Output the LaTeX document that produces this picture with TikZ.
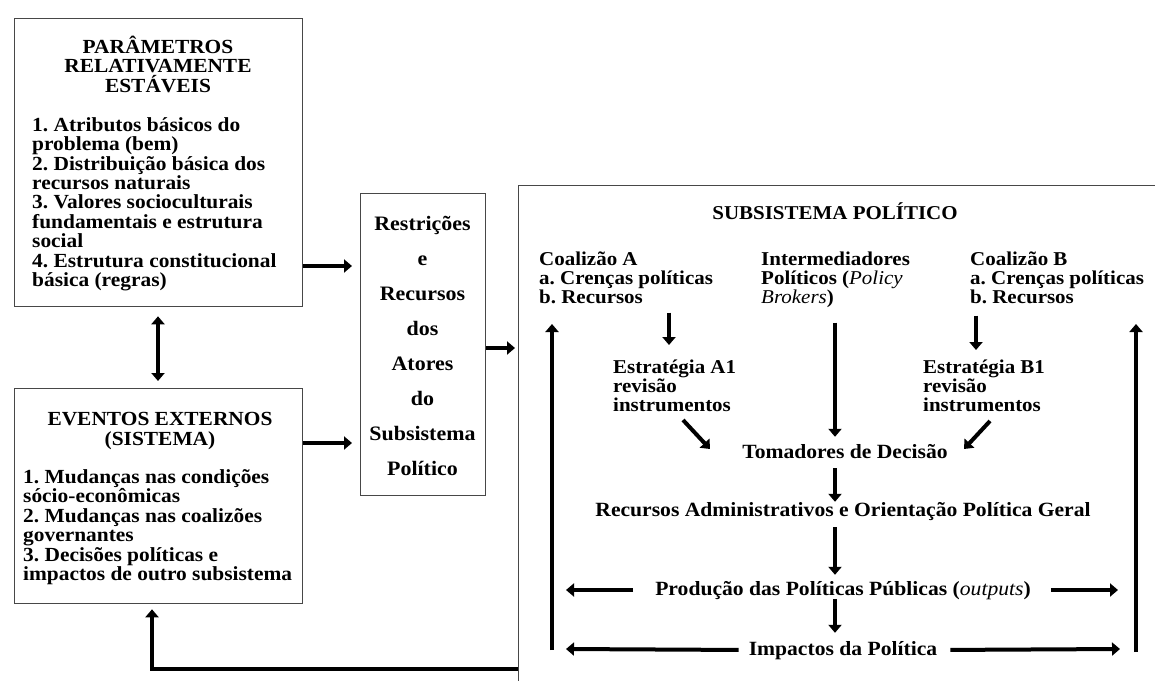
\documentclass[tikz,border=0pt]{standalone}
\usepackage{fontspec}
\setmainfont{Liberation Serif}[FakeStretch=1.07]
\usetikzlibrary{arrows.meta}
\frenchspacing
\newcommand\fl{\vrule height 19pt depth 0pt width 0pt\relax}
\newcommand\nolsl{\lineskiplimit=-100pt\relax}
\begin{document}
\begin{tikzpicture}[x=1pt,y=-1pt,
  box/.style={draw=black!72, line width=1.3pt, inner sep=0pt, fill=none},
  arr/.style={line width=4pt, -{Triangle[length=8pt,width=13pt]}},
  darr/.style={line width=4pt, {Triangle[length=8pt,width=13pt]}-{Triangle[length=8pt,width=13pt]}},
  tb/.style={inner sep=0pt, font=\bfseries\fontsize{20}{19.4}\selectfont\nolsl},
  tsub/.style={inner sep=0pt, font=\bfseries\fontsize{19.6}{19}\selectfont\nolsl},
  one/.style={inner sep=0pt, anchor=base, text height=14pt, text depth=4pt, font=\bfseries\fontsize{20.2}{20}\selectfont},
]
\useasboundingbox (0,0) rectangle (1155,680);
\fill[white] (0,0) rectangle (1155,680);

% ---------- boxes ----------
\node[box, anchor=north west, minimum width=288pt, minimum height=288pt] (b1) at (14,18) {};
\node[box, anchor=north west, minimum width=288pt, minimum height=215pt] (b2) at (14,388) {};
\node[box, anchor=north west, minimum width=125pt, minimum height=302pt] (b3) at (360,193) {};
\begin{scope}
\clip (0,0) rectangle (1155,680);
\node[box, anchor=north west, minimum width=700pt, minimum height=600pt] (b4) at (518,185) {};
\end{scope}

% ---------- box 1 ----------
\node[tb, anchor=north, align=center] (t1) at (158,34) {\fl PARÂMETROS\\RELATIVAMENTE\\ESTÁVEIS};
\node[tb, anchor=north west, align=left] (l1) at (32,112) {\fl 1. Atributos básicos do\\problema (bem)\\2. Distribuição básica dos\\recursos naturais\\3. Valores socioculturais\\fundamentais e estrutura\\social\\4. Estrutura constitucional\\básica (regras)};

% ---------- box 2 ----------
\node[tb, anchor=north, align=center, font=\bfseries\fontsize{20}{20}\selectfont\nolsl] (t2) at (160,406) {\fl EVENTOS EXTERNOS\\(SISTEMA)};
\node[tb, anchor=north west, align=left, font=\bfseries\fontsize{20}{19.5}\selectfont\nolsl] (l2) at (23,464) {\fl 1. Mudanças nas condições\\sócio-econômicas\\2. Mudanças nas coalizões\\governantes\\3. Decisões políticas e\\impactos de outro subsistema};

% ---------- box 3 ----------
\node[inner sep=0pt, anchor=north, align=center, font=\bfseries\fontsize{20.5}{35}\selectfont\nolsl] (t3) at (422.5,211) {\fl Restrições\\e\\Recursos\\dos\\Atores\\do\\Subsistema\\Político};

% ---------- subsystem ----------
\node[inner sep=0pt, anchor=base, font=\bfseries\fontsize{19.6}{20}\selectfont] (st) at (835,219) {SUBSISTEMA POLÍTICO};
\node[tsub, anchor=north west, align=left] (coalA) at (539,246) {\fl Coalizão A\\a. Crenças políticas\\b. Recursos};
\node[tsub, anchor=north west, align=left] (inter) at (761,246) {\fl Intermediadores\\Políticos ({\mdseries\itshape Policy}\\{\mdseries\itshape Brokers})};
\node[tsub, anchor=north west, align=left] (coalB) at (970,246) {\fl Coalizão B\\a. Crenças políticas\\b. Recursos};
\node[tsub, anchor=north west, align=left] (estA) at (613,354) {\fl Estratégia A1\\revisão\\instrumentos};
\node[tsub, anchor=north west, align=left] (estB) at (923,354) {\fl Estratégia B1\\revisão\\instrumentos};
\node[one] (tom) at (845,458) {Tomadores de Decisão};
\node[one] (rec) at (843,516) {Recursos Administrativos e Orientação Política Geral};
\node[one] (prod) at (843,595) {Produção das Políticas Públicas ({\mdseries\itshape outputs})};
\node[one] (imp) at (843,655) {Impactos da Política};

% ---------- coordinates ----------
\coordinate (colA) at (669,0);
\coordinate (colB) at (976,0);
\coordinate (colM) at (835,0);
\coordinate (c158) at (158,0);
\coordinate (y266) at (0,266);
\coordinate (y443) at (0,443);
\coordinate (y348) at (0,348);
\coordinate (Lb) at (552,650);
\coordinate (Lt) at (552,324);
\coordinate (Rb) at (1136,652);
\coordinate (Rt) at (1136,324);
\coordinate (pL) at (566,590);
\coordinate (pR) at (1118,590);
\coordinate (iL) at (566,649);
\coordinate (iR) at (1120,649);
\coordinate (dA1) at (683,420);
\coordinate (dA2) at (710,449);
\coordinate (dB1) at (990,421);
\coordinate (dB2) at (964,449);
\coordinate (fb) at (152,669);

% ---------- left connectors ----------
\draw[arr, shorten >=8pt] (b1.east |- y266) -- (b3.west |- y266);
\draw[arr, shorten >=8pt] (b2.east |- y443) -- (b3.west |- y443);
\draw[arr, shorten >=3pt] (b3.east |- y348) -- (b4.west |- y348);
\draw[darr, shorten <=9pt, shorten >=7pt] (b1.south -| c158) -- (b2.north -| c158);
\draw[arr, shorten >=5pt] (b4.west |- fb) -- (fb) -- (b2.south -| fb);

% ---------- subsystem connectors ----------
\draw[arr, shorten <=9pt, shorten >=9pt] (coalA.south -| colA) -- (estA.north -| colA);
\draw[arr, shorten <=12pt, shorten >=4pt] (coalB.south -| colB) -- (estB.north -| colB);
\draw[arr, shorten <=15pt, shorten >=7pt] (inter.south -| colM) -- (tom.north -| colM);
\draw[arr] (dA1) -- (dA2);
\draw[arr] (dB1) -- (dB2);
\draw[arr, shorten <=6pt] (tom.south -| colM) -- (rec.north -| colM);
\draw[arr, shorten <=7pt, shorten >=6pt] (rec.south -| colM) -- (prod.north -| colM);
\draw[arr, shorten >=8pt] (prod.south -| colM) -- (imp.north -| colM);
\draw[arr, shorten <=22pt] (prod.west) -- (pL);
\draw[arr, shorten <=20pt] (prod.east) -- (pR);
\draw[arr, shorten <=10pt] (imp.west) -- (iL);
\draw[arr, shorten <=13pt] (imp.east) -- (iR);
\draw[arr] (Lb) -- (Lt);
\draw[arr] (Rb) -- (Rt);
\end{tikzpicture}
\end{document}
